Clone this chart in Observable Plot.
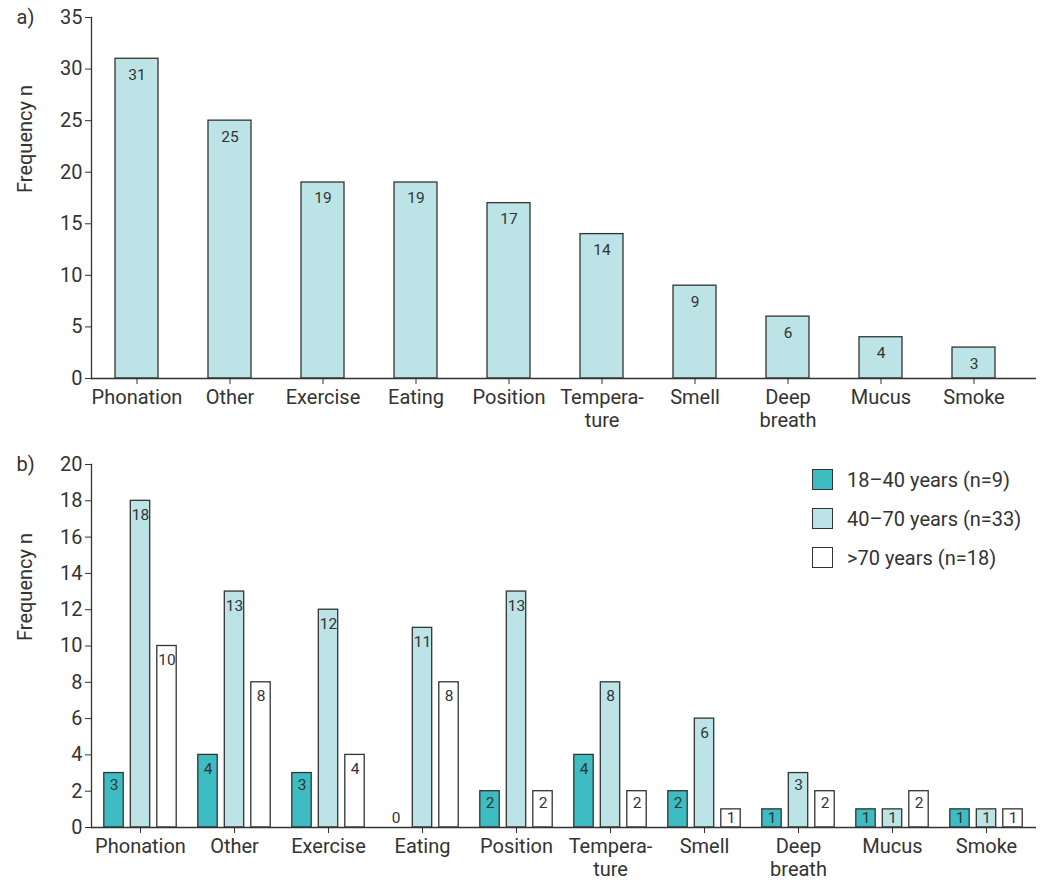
<!DOCTYPE html>
<html>
<head>
<meta charset="utf-8">
<script src="https://cdn.jsdelivr.net/npm/d3@7"></script>
<script src="https://cdn.jsdelivr.net/npm/@observablehq/plot@0.6"></script>
<style>
  body { margin: 0; background: #fff; font-family: Roboto, sans-serif; }
  #wrap { position: relative; width: 1043px; height: 885px; }
  #wrap svg { display: block; }
  .legend { position: absolute; left: 812px; top: 469px; color: #333; font-size: 20px; }
  .legend .row { display: flex; align-items: center; height: 21px; margin-bottom: 18px; }
  .legend .sw { width: 19px; height: 19px; border: 1.3px solid #333; margin-right: 14px; box-sizing: content-box; }
</style>
</head>
<body>
<div id="wrap"></div>
<script>
// ---- data ----
const categories = ["Phonation", "Other", "Exercise", "Eating", "Position", "Temperature", "Smell", "Deep breath", "Mucus", "Smoke"];
const tickLabels = ["Phonation", "Other", "Exercise", "Eating", "Position", "Tempera-\nture", "Smell", "Deep\nbreath", "Mucus", "Smoke"];
const totals = [31, 25, 19, 19, 17, 14, 9, 6, 4, 3];
const groups = ["18–40 years (n=9)", "40–70 years (n=33)", ">70 years (n=18)"];
const young = [3, 4, 3, 0, 2, 4, 2, 1, 1, 1];
const middle = [18, 13, 12, 11, 13, 8, 6, 3, 1, 1];
const old = [10, 8, 4, 8, 2, 2, 1, 2, 2, 1];
const yTicksA = [0, 5, 10, 15, 20, 25, 30, 35];
const yTicksB = [0, 2, 4, 6, 8, 10, 12, 14, 16, 18, 20];
const groupColors = ["#3dbdc1", "#bce4e6", "#ffffff"];

const ink = "#333";
const fmt = d => tickLabels[categories.indexOf(d)];
const wrap = document.getElementById("wrap");

// ---- chart a ----
const dataA = categories.map((c, i) => ({cat: c, n: totals[i]}));
const plotA = Plot.plot({
  width: 1043, height: 440,
  marginLeft: 91, marginRight: 7, marginTop: 17, marginBottom: 62,
  style: {fontFamily: "Roboto, sans-serif", fontSize: "20px", color: ink, background: "transparent", overflow: "visible"},
  x: {domain: categories, range: [86, 1024], padding: 0},
  y: {domain: [0, 35]},
  marks: [
    Plot.barY(dataA, {x: "cat", y: "n", fill: groupColors[1], stroke: ink, strokeWidth: 1.3, insetLeft: 25, insetRight: 25}),
    Plot.text(dataA, {x: "cat", y: "n", text: "n", dy: 16, fontSize: 15.5, fill: ink}),
    Plot.axisX({tickSize: 6, tickFormat: fmt, fontSize: 20, lineHeight: 1.15, label: null}),
    Plot.axisY({ticks: yTicksA, tickSize: 6, fontSize: 20, label: null}),
    Plot.frame({anchor: "left", stroke: ink, strokeWidth: 1.3}),
    Plot.ruleY([0], {stroke: ink, strokeWidth: 1.3}),
    Plot.text(["a)"], {frameAnchor: "top-left", dx: -75, textAnchor: "start", lineAnchor: "middle", fontSize: 20, fill: ink}),
    Plot.text(["Frequency n"], {frameAnchor: "left", rotate: -90, dx: -66, dy: -5, fontSize: 20, fill: ink})
  ]
});
wrap.appendChild(plotA);

// ---- chart b ----
const series = [young, middle, old];
const dataB = categories.flatMap((c, i) => series.map((s, g) => ({cat: c, g, n: s[i]})));
const offsets = [-26.5, 0, 26.5];
const barMarks = [];
for (let g = 0; g < 3; g++) {
  const sub = dataB.filter(d => d.g === g);
  barMarks.push(Plot.barY(sub, {x: "cat", y: "n", fill: groupColors[g], stroke: ink, strokeWidth: 1.3, insetLeft: 37.3, insetRight: 37.3, dx: offsets[g]}));
  barMarks.push(Plot.text(sub.filter(d => d.n > 3), {x: "cat", y: "n", text: "n", dx: offsets[g], dy: 14, fontSize: 15.5, fill: ink}));
  barMarks.push(Plot.text(sub.filter(d => d.n > 1 && d.n <= 3), {x: "cat", y: "n", text: "n", dx: offsets[g], dy: 12, fontSize: 15.5, fill: ink}));
  barMarks.push(Plot.text(sub.filter(d => d.n === 1), {x: "cat", y: "n", text: "n", dx: offsets[g], dy: 9, fontSize: 15.5, fill: ink}));
  barMarks.push(Plot.text(sub.filter(d => d.n === 0), {x: "cat", y: "n", text: "n", dx: offsets[g], dy: -9, fontSize: 15.5, fill: ink}));
}
const plotB = Plot.plot({
  width: 1043, height: 445,
  marginLeft: 91, marginRight: 7, marginTop: 24, marginBottom: 58,
  style: {fontFamily: "Roboto, sans-serif", fontSize: "20px", color: ink, background: "transparent", overflow: "visible"},
  x: {domain: categories, range: [90, 1036], padding: 0},
  y: {domain: [0, 20]},
  marks: [
    ...barMarks,
    Plot.axisX({tickSize: 6, tickFormat: fmt, fontSize: 20, lineHeight: 1.15, label: null}),
    Plot.axisY({ticks: yTicksB, tickSize: 6, fontSize: 20, label: null}),
    Plot.frame({anchor: "left", stroke: ink, strokeWidth: 1.3}),
    Plot.ruleY([0], {stroke: ink, strokeWidth: 1.3}),
    Plot.text(["b)"], {frameAnchor: "top-left", dx: -75, textAnchor: "start", lineAnchor: "middle", fontSize: 20, fill: ink}),
    Plot.text(["Frequency n"], {frameAnchor: "left", rotate: -90, dx: -66, dy: -5, fontSize: 20, fill: ink})
  ]
});
wrap.appendChild(plotB);

// ---- legend ----
const legend = document.createElement("div");
legend.className = "legend";
groups.forEach((name, g) => {
  const row = document.createElement("div");
  row.className = "row";
  const sw = document.createElement("span");
  sw.className = "sw";
  sw.style.background = groupColors[g];
  const label = document.createElement("span");
  label.textContent = name;
  row.appendChild(sw);
  row.appendChild(label);
  legend.appendChild(row);
});
wrap.appendChild(legend);
</script>
</body>
</html>
